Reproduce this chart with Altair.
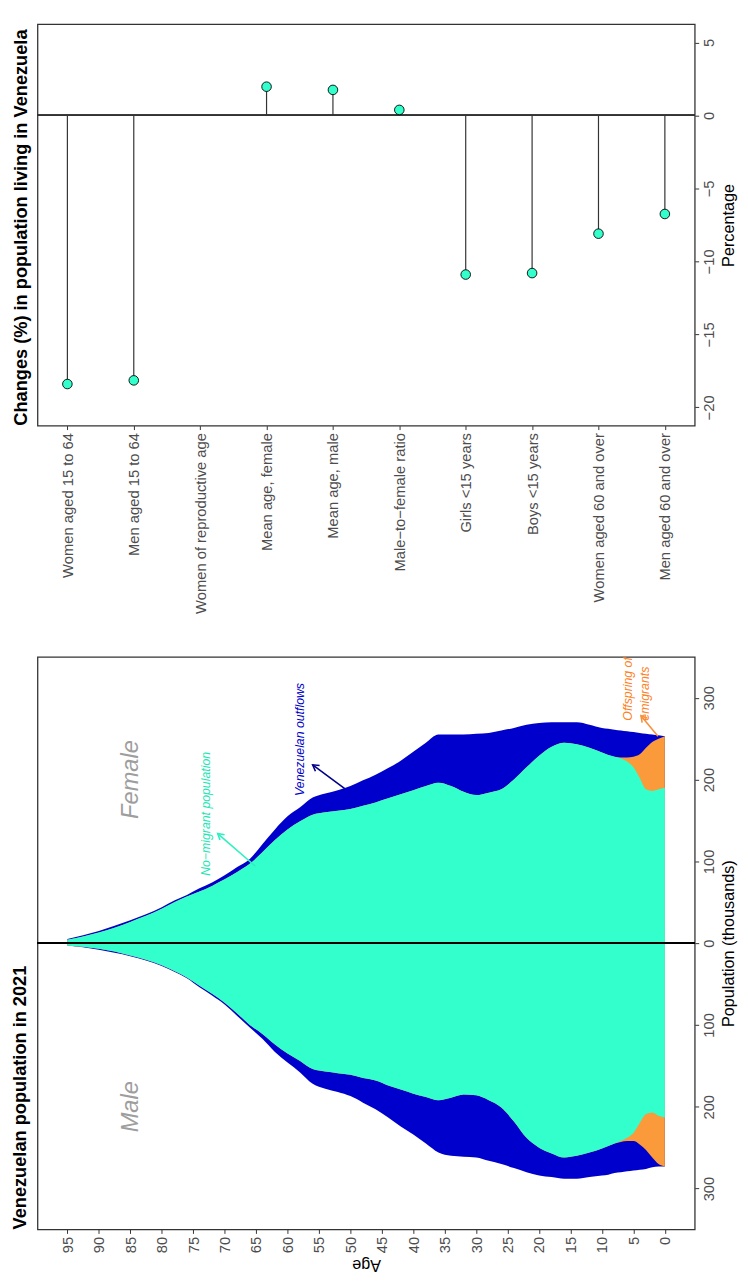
import math
import altair as alt
import pandas as pd

FONT = "Liberation Sans"

# ---------------- lollipop panel data ----------------
categories = [
    "Women aged 15 to 64", "Men aged 15 to 64", "Women of reproductive age",
    "Mean age, female", "Mean age, male", "Male\u2212to\u2212female ratio",
    "Girls <15 years", "Boys <15 years", "Women aged 60 and over", "Men aged 60 and over",
]
changes = [-18.4, -18.15, None, 1.97, 1.75, 0.38, -10.9, -10.8, -8.1, -6.75]
pct_ticks = [5, 0, -5, -10, -15, -20]

# ---------------- pyramid data (thousands) ----------------
ages = [0, 1, 2, 3, 4, 5, 6, 7, 8, 9, 10, 12, 14, 16, 18, 20, 22, 24, 26, 28, 30, 32, 34,
        36, 38, 40, 42, 44, 46, 48, 50, 52, 54, 56, 58, 60, 62, 64, 66, 68, 70, 72, 74,
        76, 78, 80, 85, 90, 95]
female_nomig = [190, 188, 186, 188, 202, 215, 222, 226, 228, 230, 233, 239, 243, 245, 240,
                229, 215, 200, 188, 184, 181, 185, 192, 196, 192, 187, 182, 177, 172, 168,
                164, 162, 160, 157, 149, 139, 126, 111, 97, 87, 78, 70, 63, 57, 50, 42, 26,
                13, 4]
female_offspring = [63, 62, 60, 51, 29, 13, 5, 1] + [0] * 41
female_outflows = [0, 4, 9, 17, 26, 30, 32, 33, 33, 32, 30, 28, 27, 25, 30, 40, 52, 63, 72,
                   73, 75, 70, 63, 59, 53, 47, 41, 37, 34, 31, 28, 25, 23, 21, 17, 16, 13,
                   10, 6, 6, 5, 4, 4, 2, 2, 2, 2, 2, 1]
male_nomig = [213, 211, 207, 209, 220, 232, 238, 242, 245, 248, 251, 256, 260, 262, 257,
              250, 238, 218, 201, 192, 186, 185, 189, 192, 188, 184, 179, 174, 168, 165,
              161, 159, 157, 154, 144, 135, 124, 111, 100, 86, 73, 62, 52, 42, 34, 27, 15,
              7, 3]
male_offspring = [60, 59, 55, 44, 26, 10, 4, 1] + [0] * 41
male_outflows = [0, 3, 12, 23, 31, 36, 37, 37, 36, 35, 33, 30, 28, 26, 29, 34, 42, 57, 69,
                 74, 76, 76, 71, 64, 57, 50, 45, 39, 35, 30, 26, 23, 21, 18, 14, 11, 9, 6,
                 3, 3, 2, 2, 2, 1, 1, 1, 1, 1, 0]
age_ticks = list(range(0, 100, 5))
pop_ticks = [-300, -200, -100, 0, 100, 200, 300]

# annotations (age, population in thousands)
labels_center = ["Female", "Male", "No\u2212migrant population", "Venezuelan outflows"]
labels_center_age = [84.9, 84.9, 72.9, 58.0]
labels_center_pop = [200, -200, 158, 249]
labels_center_color = ["#9e9e9e", "#9e9e9e", "#22e6b2", "#0000cc"]
labels_center_size = [24, 24, 12.5, 12.5]

labels_left = ["Offspring of", "emigrants"]
labels_left_age = [5.9, 3.1]
labels_left_pop = [272, 272]

arrow_tail_age = [65.1, 50.9, 1.1]
arrow_tail_pop = [94, 189, 253]
arrow_head_age = [71.1, 56.0, 3.8]
arrow_head_pop = [134, 218, 278]
arrow_color = ["#2cf0c0", "#000088", "#f5923e"]

# ---------------- layout constants ----------------
W = 668
H1 = 408
H2 = 582
PCT_DOMAIN = [-21.25, 6.25]
AGE_DOMAIN = [-4.75, 99.75]
POP_DOMAIN = [-350, 350]
CYAN = "#33ffcc"
BLUE = "#0000cc"
ORANGE = "#fb9a3b"
LABEL_GREY = "#4d4d4d"

# ================= lollipop chart =================
lol = pd.DataFrame({"cat": categories, "val": changes})

xcat = alt.X(
    "cat:N", sort=categories,
    scale=alt.Scale(type="point", domain=categories, padding=0.45),
    axis=alt.Axis(title=None, labelAngle=270, labelAlign="right", labelBaseline="middle",
                  labelFontSize=15, labelColor=LABEL_GREY, tickColor="#333333", tickSize=4,
                  labelPadding=3, labelLimit=0, domain=False, grid=False),
)
pct_axis = alt.Axis(orient="right", values=pct_ticks, title="Percentage", labelAngle=270,
                    labelAlign="center", labelBaseline="top", labelFontSize=15,
                    labelColor=LABEL_GREY, tickColor="#333333", tickSize=4, labelPadding=3,
                    domain=False, grid=False, titleAngle=270, titleBaseline="top",
                    titleFontSize=16.5, titleFontWeight="normal", titleColor="black",
                    titlePadding=4)
ypct = alt.Y("val:Q", scale=alt.Scale(domain=PCT_DOMAIN, nice=False, zero=False), axis=pct_axis)

seg = alt.Chart(lol).transform_filter("isValid(datum.val)").mark_rule(
    color="#333333", strokeWidth=1.2).encode(x=xcat, y=ypct, y2=alt.datum(0))
zero1 = alt.Chart(lol).mark_rule(color="#333333", strokeWidth=1.2).encode(y=alt.datum(0))
dots = alt.Chart(lol).transform_filter("isValid(datum.val)").mark_circle(
    size=95, color=CYAN, opacity=1, stroke="black", strokeWidth=0.9).encode(x=xcat, y=ypct)

top = alt.layer(seg, zero1, dots).properties(
    width=W, height=H1,
    title=alt.TitleParams("Changes (%) in population living in Venezuela", orient="left",
                          anchor="start", frame="group", fontSize=18.5, fontWeight="bold",
                          font=FONT, color="black", offset=7),
)

# ================= pyramid chart =================
rows = []
for sex, sign, nm, off, out in [("Female", 1, female_nomig, female_offspring, female_outflows),
                                ("Male", -1, male_nomig, male_offspring, male_outflows)]:
    for a, n, o, f in zip(ages, nm, off, out):
        rows.append({"age": a, "sex": sex, "nomig": sign * n,
                     "withoff": sign * (n + o), "total": sign * (n + o + f)})
pyr = pd.DataFrame(rows)

age_axis = alt.Axis(values=age_ticks, title="Age", labelAngle=270, labelAlign="right",
                    labelBaseline="middle", labelFontSize=15, labelColor=LABEL_GREY,
                    tickColor="#333333", tickSize=4, labelPadding=3, domain=False, grid=False,
                    titleAngle=180, titleBaseline="bottom", titleFontSize=16.5,
                    titleFontWeight="normal", titleColor="black", titlePadding=4)
pop_axis = alt.Axis(orient="right", values=pop_ticks, labelExpr="abs(datum.value)",
                    title="Population (thousands)", labelAngle=270, labelAlign="center",
                    labelBaseline="top", labelFontSize=15, labelColor=LABEL_GREY,
                    tickColor="#333333", tickSize=4, labelPadding=3, domain=False, grid=False,
                    titleAngle=270, titleBaseline="top", titleFontSize=16.5,
                    titleFontWeight="normal", titleColor="black", titlePadding=4)
age_scale = alt.Scale(domain=AGE_DOMAIN, reverse=True, nice=False, zero=False)
pop_scale = alt.Scale(domain=POP_DOMAIN, nice=False, zero=False)


def xa(field):
    return alt.X(f"{field}:Q", scale=age_scale, axis=age_axis)


def yp(field):
    return alt.Y(f"{field}:Q", scale=pop_scale, axis=pop_axis)


def area(field, color):
    return alt.Chart(pyr).mark_area(color=color, opacity=1, interpolate="monotone").encode(
        x=xa("age"), y=yp(field), y2=alt.datum(0), detail="sex:N")


zero2 = alt.Chart(pyr).mark_rule(color="black", strokeWidth=1.8).encode(y=alt.datum(0))

ann_c = pd.DataFrame({"label": labels_center, "age": labels_center_age,
                      "pop": labels_center_pop, "color": labels_center_color,
                      "size": labels_center_size})
txt_c = alt.Chart(ann_c).mark_text(angle=270, fontStyle="italic", font=FONT, align="center",
                                    baseline="middle").encode(
    x=xa("age"), y=yp("pop"), text="label:N",
    color=alt.Color("color:N", scale=None), size=alt.Size("size:Q", scale=None))

ann_l = pd.DataFrame({"label": labels_left, "age": labels_left_age, "pop": labels_left_pop})
txt_l = alt.Chart(ann_l).mark_text(angle=270, fontStyle="italic", font=FONT, align="left",
                                    baseline="middle", fontSize=12.5, color="#ff7f24",
                                    clip=True).encode(
    x=xa("age"), y=yp("pop"), text="label:N")

# arrow heads: rotation from the pixel direction of each arrow
px_age = W / (AGE_DOMAIN[1] - AGE_DOMAIN[0])
px_pop = H2 / (POP_DOMAIN[1] - POP_DOMAIN[0])
angs = []
for a0, p0, a1, p1 in zip(arrow_tail_age, arrow_tail_pop, arrow_head_age, arrow_head_pop):
    dx = -(a1 - a0) * px_age
    dy = -(p1 - p0) * px_pop
    angs.append(math.degrees(math.atan2(dy, dx)) % 360)
arr = pd.DataFrame({"a0": arrow_tail_age, "p0": arrow_tail_pop, "a1": arrow_head_age,
                    "p1": arrow_head_pop, "color": arrow_color, "ang": angs})
arr_line = alt.Chart(arr).mark_rule(strokeWidth=1.6).encode(
    x=xa("a0"), x2="a1:Q", y=yp("p0"), y2="p1:Q", color=alt.Color("color:N", scale=None))
CHEVRON = "M -1 -0.58 L 0 0 L -1 0.58"
arr_head = alt.Chart(arr).mark_point(shape=CHEVRON, filled=False, size=150, strokeWidth=1.6,
                                     opacity=1).encode(
    x=xa("a1"), y=yp("p1"), angle=alt.Angle("ang:Q", scale=None),
    color=alt.Color("color:N", scale=None))

bottom = alt.layer(area("total", BLUE), area("withoff", ORANGE), area("nomig", CYAN), zero2,
                   txt_c, txt_l, arr_line, arr_head).properties(
    width=W, height=H2,
    title=alt.TitleParams("Venezuelan population in 2021", orient="left", anchor="start",
                          frame="group", fontSize=18.5, fontWeight="bold", font=FONT,
                          color="black", offset=7),
)

chart = alt.vconcat(top, bottom, spacing=235, bounds="flush").properties(
    padding={"left": 2, "right": 2, "top": 5, "bottom": 2}
).configure_view(stroke="#333333", strokeWidth=1.3).configure_axis(
    labelFont=FONT, titleFont=FONT).configure_title(font=FONT)

chart.save("out.html", embed_options={"renderer": "svg", "actions": False})
